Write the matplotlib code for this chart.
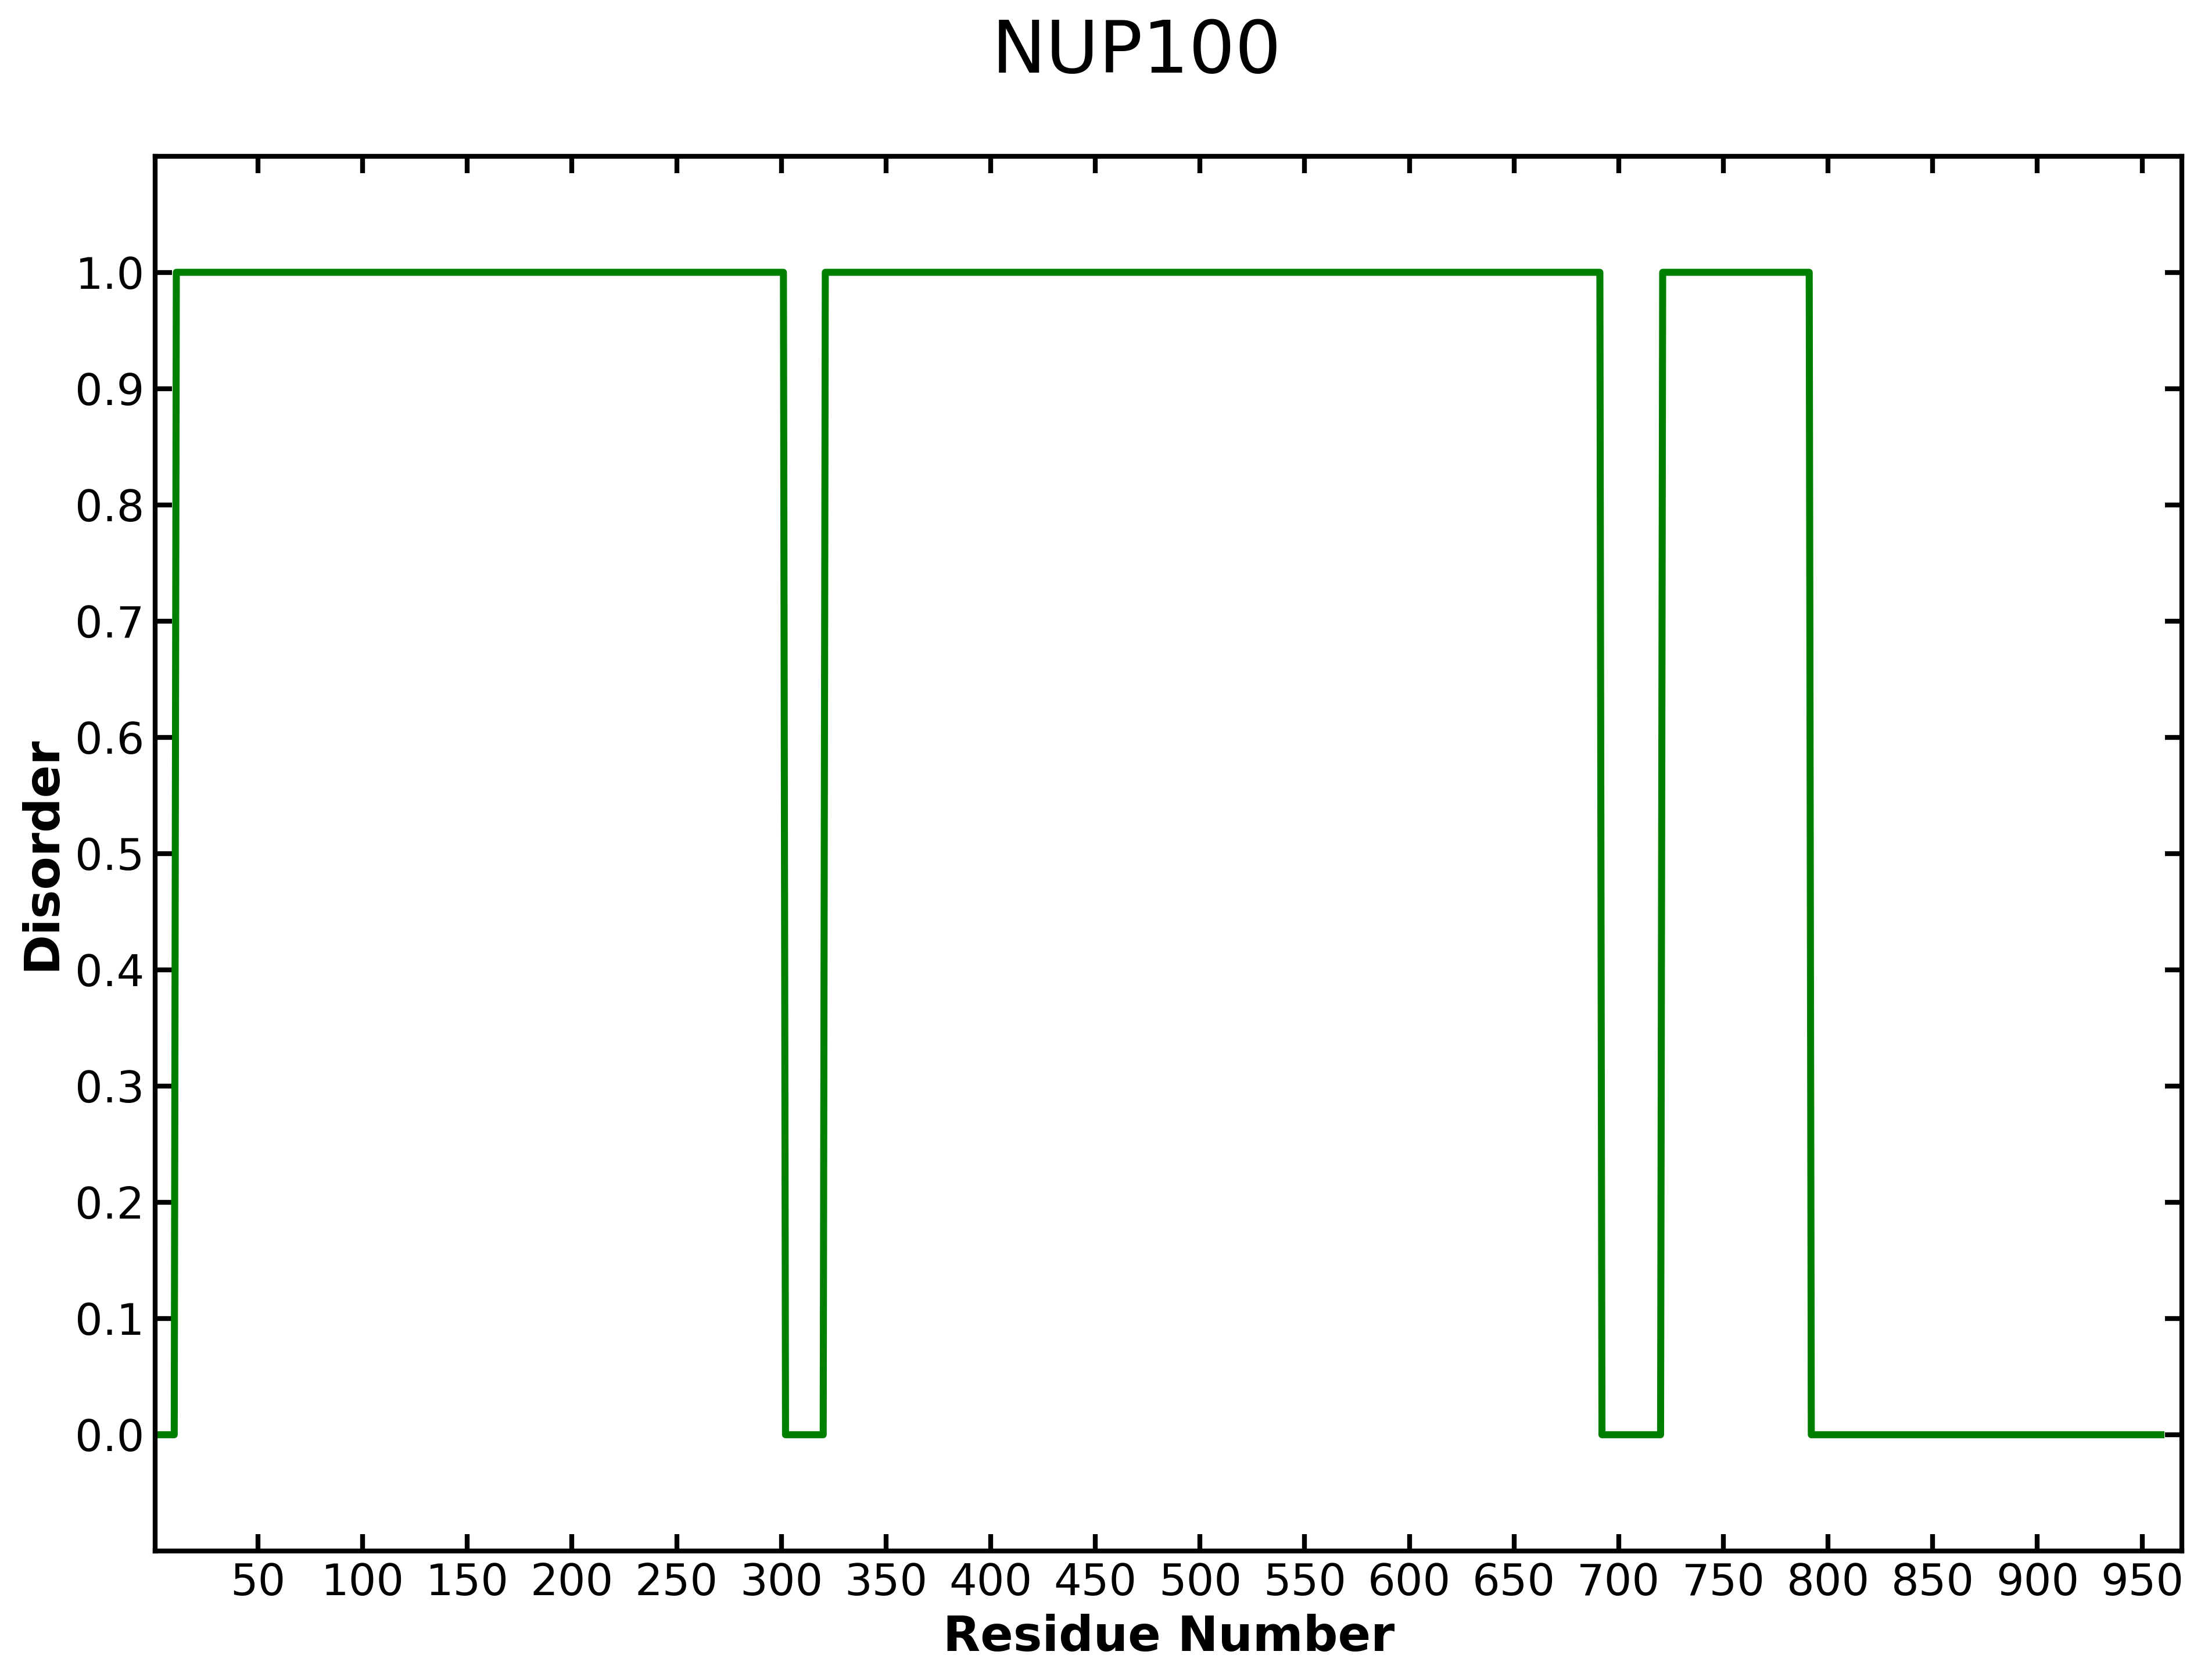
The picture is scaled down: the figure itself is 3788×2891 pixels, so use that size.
import numpy as np
import matplotlib
matplotlib.use('Agg')
import matplotlib.pyplot as plt

# disorder prediction for NUP100 (1 = disordered, 0 = ordered)
protein = 'NUP100'
seq_length = 959
disordered_regions = [(11, 301), (321, 691), (721, 791)]

x_ticks = list(range(50, 951, 50))
y_ticks = [0.0, 0.1, 0.2, 0.3, 0.4, 0.5, 0.6, 0.7, 0.8, 0.9, 1.0]

residues = np.arange(1, seq_length + 1)
disorder = np.zeros(seq_length)
for start, end in disordered_regions:
    disorder[start - 1:end] = 1.0

fig = plt.figure(figsize=(3788 / 300, 2891 / 300), dpi=300)
ax = fig.add_axes([0.0706, 0.0768, 0.9913 - 0.0706, 0.9071 - 0.0768])

ax.plot(residues, disorder, color='green', linewidth=2.9)

ax.set_xlim(1, 969)
ax.set_ylim(-0.1, 1.1)
ax.set_xticks(x_ticks)
ax.set_yticks(y_ticks)
ax.set_yticklabels(['%.1f' % v for v in y_ticks])

ax.tick_params(direction='in', length=7, width=2, pad=4.5, labelsize=18,
               top=True, right=True)
for sp in ax.spines.values():
    sp.set_linewidth(2)

ax.set_xlabel('Residue Number', fontsize=20, fontweight='bold')
ax.set_ylabel('Disorder', fontsize=20, fontweight='bold')

fig.text(0.5164, 0.9568, protein, fontsize=30, ha='center', va='baseline')

fig.savefig('out.png', dpi=300)
